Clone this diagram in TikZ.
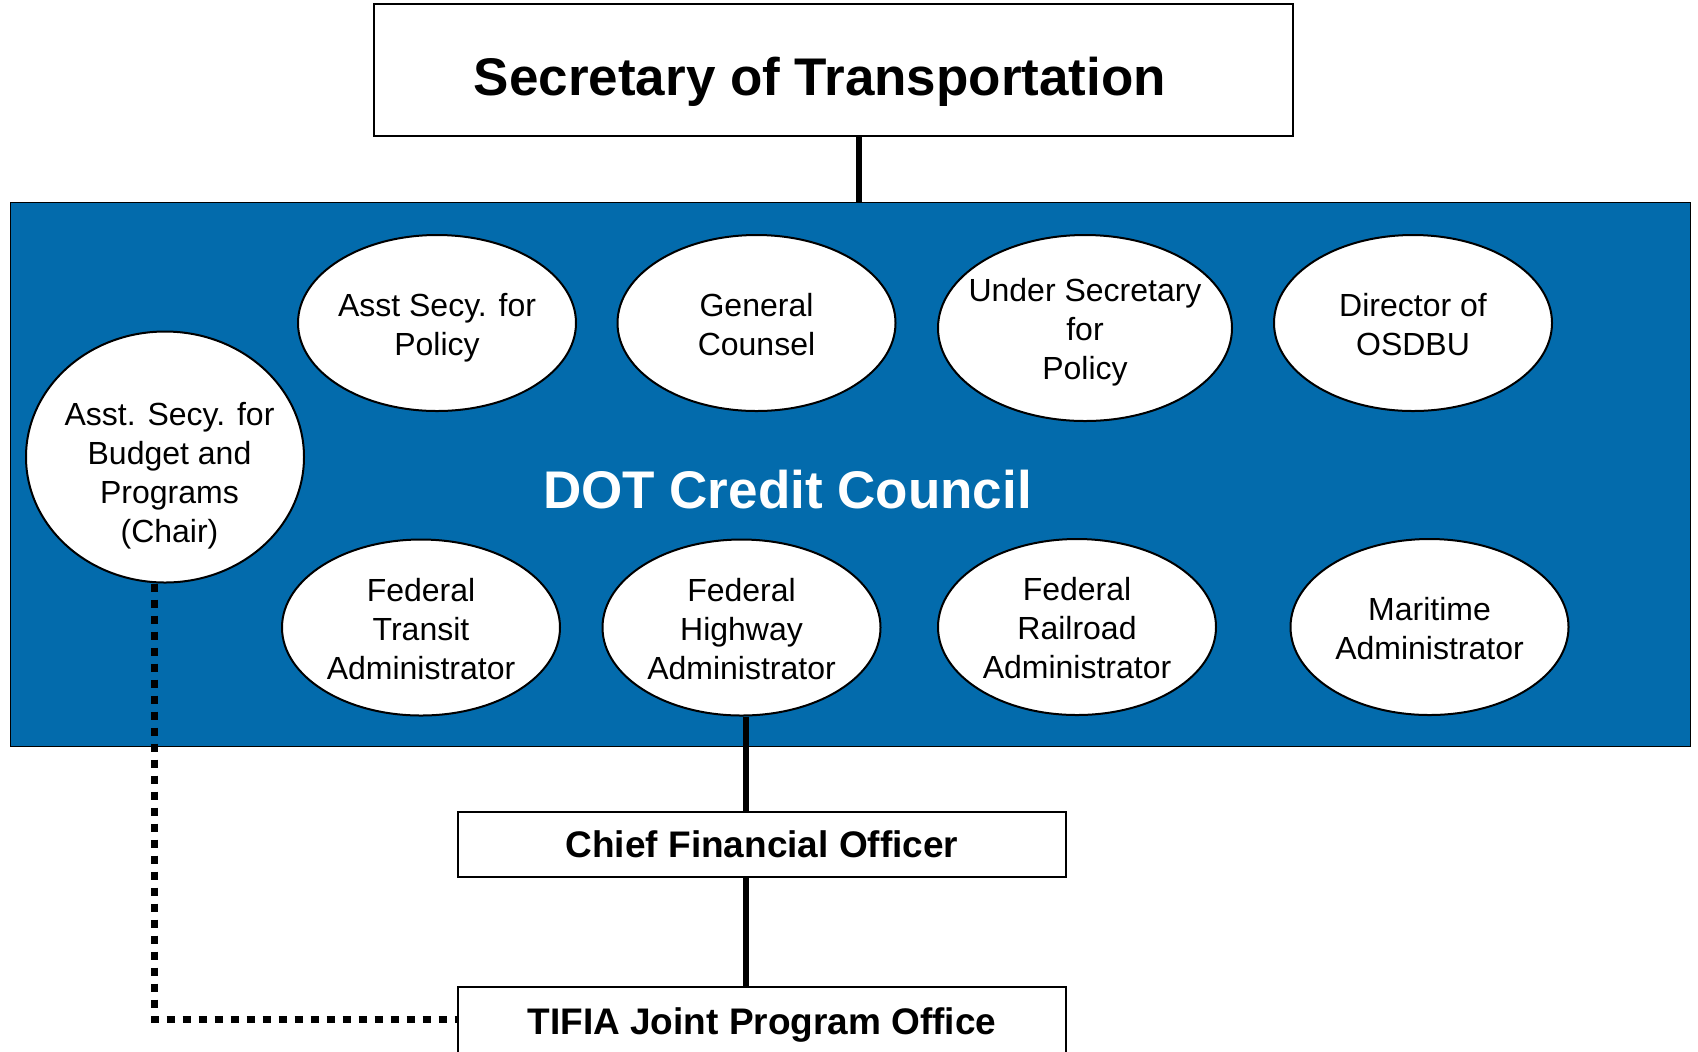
\documentclass[tikz,border=0pt]{standalone}
\usepackage{fontspec}
\setmainfont{Liberation Sans}
\usetikzlibrary{shapes.geometric}
\definecolor{dotblue}{RGB}{3,107,172}
\newcommand{\tlx}{\rule{0pt}{24.75pt}}
\newcommand{\blx}{\rule[-6pt]{0pt}{6pt}}
\begin{document}
\begin{tikzpicture}[x=0.75pt,y=-0.75pt,
  orgbox/.style={draw=black, line width=1.3pt, fill=white, rectangle, inner sep=0pt},
  member/.style={ellipse, draw=black, line width=1.5pt, fill=white, inner sep=0pt,
                 minimum width=208.5pt, minimum height=132pt},
  mtext/.style={align=center, font=\fontsize{24pt}{29.25pt}\selectfont, inner sep=0pt},
  conn/.style={line width=4.5pt},
  dotconn/.style={line width=5.25pt, dash pattern=on 6pt off 6pt},
  boxtext/.style={font=\bfseries\fontsize{27.75pt}{33pt}\selectfont, text depth=0pt},
  ]
\useasboundingbox (0,0) rectangle (1698,1051);
\fill[white] (0,0) rectangle (1698,1051);

% council background
\node[draw=black, line width=0.75pt, fill=dotblue, minimum width=1260pt,
      minimum height=408pt, inner sep=0pt] (council) at (850,474) {};

% secretary
\node[orgbox, minimum width=689.25pt, minimum height=99pt] (sec) at (833.5,70) {};
\node[font=\bfseries\fontsize{39.75pt}{48pt}\selectfont, anchor=base, inner sep=0pt]
      (sectext) at (820,95) {Secretary of Transportation};
\draw[conn] ([xshift=19.125pt]sec.south) -- ([xshift=19.125pt]sec.south |- council.north);

% council title
\node[font=\bfseries\fontsize{39.75pt}{48pt}\selectfont, text=white, anchor=base, inner sep=0pt]
      (ctext) at (787.5,508) {DOT Credit Council};

% lower boxes
\node[orgbox, minimum width=456pt, minimum height=48.75pt, boxtext] (cfo) at (762,844.5) {Chief Financial Officer};
\node[orgbox, minimum width=456pt, minimum height=56.25pt, boxtext, text depth=4.5pt] (tifia) at (762,1024.5) {TIFIA Joint Program Office};

% members
\node[member, minimum height=188.25pt] (budget) at (165,457) {};
\node[member] (policy) at (437,323) {};
\node[member] (counsel) at (756.5,323) {};
\node[member, minimum width=220.5pt, minimum height=139.5pt] (usp) at (1085,328) {};
\node[member] (osdbu) at (1413,323) {};
\node[member] (transit) at (421,627.5) {};
\node[member] (highway) at (741.5,627.5) {};
\node[member] (rail) at (1077,627) {};
\node[member] (marad) at (1429.5,627) {};

\node[mtext] (tbudget) at (169.5,471) {\tlx Asst. Secy. for\\Budget and\\Programs\\(Chair)\blx};
\node[mtext] (tpolicy) at (policy) {\tlx Asst Secy. for\\Policy\blx};
\node[mtext] (tcounsel) at (counsel) {\tlx General\\Counsel\blx};
\node[mtext] (tusp) at (usp) {\tlx Under Secretary\\for\\Policy\blx};
\node[mtext] (tosdbu) at (osdbu) {\tlx Director of\\OSDBU\blx};
\node[mtext] (ttransit) at (transit) {\tlx Federal\\Transit\\Administrator\blx};
\node[mtext] (thighway) at (highway) {\tlx Federal\\Highway\\Administrator\blx};
\node[mtext] (trail) at (rail) {\tlx Federal\\Railroad\\Administrator\blx};
\node[mtext] (tmarad) at (marad) {\tlx Maritime\\Administrator\blx};

% dotted line from chair to TIFIA
\draw[dotconn] ([xshift=-8.25pt]budget.south) |- ([yshift=4.125pt]tifia.west);

% solid connectors
\draw[conn] ([xshift=3.375pt]highway.south) -- ([xshift=3.375pt]highway.south |- cfo.north);
\draw[conn] ([xshift=3.375pt]highway.south |- cfo.south) -- ([xshift=3.375pt]highway.south |- tifia.north);
\end{tikzpicture}
\end{document}
